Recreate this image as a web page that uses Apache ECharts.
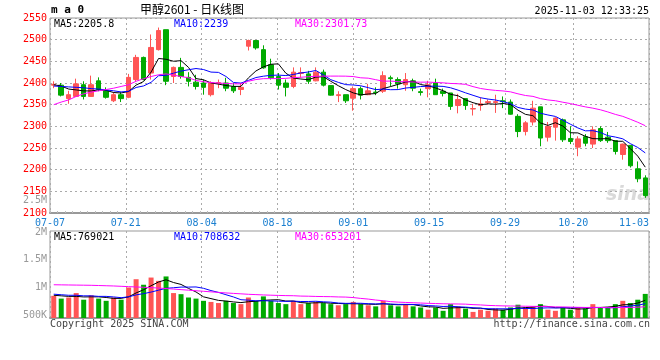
<!DOCTYPE html>
<html><head><meta charset="utf-8">
<script src="https://cdn.jsdelivr.net/npm/echarts@6/dist/echarts.min.js"></script>
<style>html,body{margin:0;padding:0;background:#fff}#c{width:660px;height:360px}</style>
</head><body><div id="c"></div>
<script>
const dates = ['07-07','07-08','07-09','07-10','07-11','07-14','07-15','07-16','07-17','07-18',
'07-21','07-22','07-23','07-24','07-25','07-28','07-29','07-30','07-31','08-01',
'08-04','08-05','08-06','08-07','08-08','08-11','08-12','08-13','08-14','08-15',
'08-18','08-19','08-20','08-21','08-22','08-25','08-26','08-27','08-28','08-29',
'09-01','09-02','09-03','09-04','09-05','09-08','09-09','09-10','09-11','09-12',
'09-15','09-16','09-17','09-18','09-19','09-22','09-23','09-24','09-25','09-26',
'09-29','09-30','10-09','10-10','10-13','10-14','10-15','10-16','10-17','10-20',
'10-21','10-22','10-23','10-24','10-27','10-28','10-29','10-30','10-31','11-03'];
const opens = [2395,2395,2364,2369,2396,2369,2405,2382,2359,2373,
2367,2408,2459,2423,2477,2523,2415,2436,2413,2402,
2400,2373,2399,2400,2392,2385,2485,2498,2477,2442,
2415,2400,2392,2422,2421,2405,2425,2394,2371,2373,
2365,2387,2373,2379,2381,2412,2408,2396,2405,2380,
2387,2400,2381,2377,2348,2364,2340,2348,2355,2355,
2359,2356,2323,2288,2310,2345,2275,2298,2315,2272,
2252,2276,2259,2295,2275,2267,2235,2256,2202,2181];
const closes = [2397,2372,2373,2398,2369,2396,2385,2367,2373,2364,
2413,2459,2408,2482,2521,2404,2436,2415,2404,2392,
2390,2400,2401,2388,2382,2390,2498,2481,2435,2412,
2395,2390,2425,2424,2404,2425,2395,2372,2373,2359,
2387,2372,2382,2378,2417,2410,2398,2408,2388,2378,
2396,2373,2376,2346,2362,2348,2341,2352,2357,2357,
2357,2328,2288,2308,2342,2273,2300,2319,2269,2265,
2271,2261,2292,2267,2267,2242,2259,2209,2179,2140];
const lows = [2388,2369,2352,2369,2362,2369,2381,2364,2356,2356,
2365,2404,2406,2408,2475,2395,2400,2410,2392,2385,
2373,2369,2388,2381,2377,2372,2475,2477,2433,2408,
2385,2369,2388,2412,2398,2404,2392,2371,2356,2354,
2336,2362,2372,2372,2377,2392,2387,2382,2381,2371,
2367,2373,2369,2338,2330,2338,2325,2336,2350,2331,
2342,2327,2275,2279,2302,2254,2265,2267,2264,2259,
2231,2254,2250,2264,2262,2235,2223,2205,2171,2135];
const highs = [2404,2400,2382,2410,2404,2417,2413,2390,2379,2379,
2421,2465,2461,2512,2528,2523,2438,2458,2425,2419,
2408,2404,2408,2412,2400,2400,2500,2498,2487,2456,
2423,2408,2436,2436,2428,2436,2431,2394,2381,2373,
2392,2392,2398,2390,2427,2417,2413,2423,2410,2387,
2405,2410,2387,2377,2375,2364,2352,2367,2362,2373,
2369,2362,2328,2312,2359,2345,2310,2321,2318,2300,
2277,2282,2300,2300,2287,2267,2260,2256,2219,2187];
// moving-average values before enough history exists
const ma5Head = [2396,2393,2386,2384];
const ma10Head = [2393,2392,2391,2390,2389,2387,2386,2384,2382];
const ma30Head = [2350,2356,2361,2369,2375,2379,2382,2385,2388,2392,
2396,2404,2410,2415,2419,2421,2418,2415,2412,2406,
2403,2401,2400,2399,2398,2398,2404,2408,2410];
const volumes = [850000,800000,820000,900000,780000,860000,800000,760000,820000,780000,
1000000,1150000,1050000,1180000,1120000,1200000,900000,880000,820000,800000,
760000,740000,720000,760000,720000,700000,820000,760000,840000,760000,
720000,700000,760000,700000,720000,740000,720000,700000,680000,700000,
740000,700000,680000,660000,760000,680000,660000,700000,660000,640000,
600000,640000,580000,700000,660000,620000,560000,600000,580000,620000,
600000,640000,690000,640000,660000,700000,600000,580000,640000,600000,
640000,620000,700000,641000,640000,700000,760000,720000,780000,885000];
const vma5Head = [860000,850000,840000,840000];
const vma10Head = [880000,870000,860000,860000,850000,850000,840000,840000,830000];
const vma30Head = [1050000,1048000,1046000,1044000,1042000,1040000,1036000,1032000,1028000,1022000,
1016000,1010000,1004000,998000,990000,982000,972000,962000,952000,942000,
932000,922000,912000,902000,894000,886000,878000,872000,866000];
const priceTicks = {min:2100, max:2550, interval:50};
const volRange = {min:450000, max:2020000};
const volLabels = [500000,1000000,1500000,2000000];
const labelIdx = [0,10,20,30,40,50,60,69,79];
const legendPrice = ['MA5:2205.8','MA10:2239','MA30:2301.73'];
const legendVol = ['MA5:769021','MA10:708632','MA30:653201'];

function movingAvg(vals, n, head){
  return vals.map((v,i)=>{
    if(i < n-1) return head[i];
    let s=0; for(let k=i-n+1;k<=i;k++) s+=vals[k];
    return +(s/n).toFixed(2);
  });
}
const RED='#ff5555', GREEN='#00aa00';
const FONT='DejaVu Sans Mono';
const kdata = dates.map((d,i)=>[opens[i],closes[i],lows[i],highs[i]]);
const volData = volumes.map((v,i)=>({value:v,itemStyle:{color: closes[i]>=opens[i]?RED:GREEN}}));
const showIdx = (i)=>labelIdx.indexOf(i)>=0;
const GL = 50, GR = 11;
const chart = echarts.init(document.getElementById('c'));
const gridLine = {show:true, interval:showIdx, lineStyle:{color:'#aaa', type:[2,3], width:1}};
chart.setOption({
  animation:false,
  grid:[
    {left:GL, right:GR, top:18, height:195, show:true, borderColor:'#999', borderWidth:1},
    {left:GL, right:GR, top:231, height:87, show:true, borderColor:'#999', borderWidth:1}
  ],
  xAxis:[
    {type:'category', gridIndex:0, position:'bottom', data:dates, boundaryGap:true, axisLine:{show:false},
     axisTick:{show:true, interval:0, length:-2, lineStyle:{color:'#bbb'}}, axisLabel:{show:false}, splitLine:{show:false}},
    {type:'category', gridIndex:0, position:'bottom', data:dates, boundaryGap:false, axisLine:{show:true, lineStyle:{color:'#999', width:2}},
     axisTick:{show:false}, splitLine:gridLine,
     axisLabel:{interval:showIdx, color:'#1a7fd0', fontFamily:FONT, fontSize:10, margin:5, alignMaxLabel:'right'}},
    {type:'category', gridIndex:1, position:'bottom', data:dates, boundaryGap:true, axisLine:{show:false}, axisTick:{show:false}, axisLabel:{show:false}, splitLine:{show:false}},
    {type:'category', gridIndex:1, position:'bottom', data:dates, boundaryGap:false, axisLine:{show:true, lineStyle:{color:'#999', width:2}}, axisTick:{show:false}, axisLabel:{show:false}, splitLine:gridLine}
  ],
  yAxis:[
    {type:'value', gridIndex:0, min:priceTicks.min, max:priceTicks.max, interval:priceTicks.interval,
     axisLine:{show:false}, axisTick:{show:false},
     axisLabel:{color:'#ff0000', fontFamily:FONT, fontSize:10, margin:3, formatter:(v)=>String(v)},
     splitLine:{show:true, lineStyle:{color:'#aaa', type:[2,3]}}},
    {type:'value', gridIndex:1, min:volRange.min, max:volRange.max,
     axisLine:{show:false}, axisTick:{show:false},
     axisLabel:{color:'#999', fontFamily:FONT, fontSize:10, margin:3, customValues:volLabels,
       formatter:(v)=> v<1000000 ? (v/1000)+'K' : (v/1000000)+'M'},
     splitLine:{show:false}}
  ],
  series:[
    {type:'candlestick', xAxisIndex:0, yAxisIndex:0, data:kdata, barWidth:5,
     itemStyle:{color:RED, color0:GREEN, borderColor:RED, borderColor0:GREEN, borderWidth:1}},
    {type:'line', xAxisIndex:0, yAxisIndex:0, data:movingAvg(closes,5,ma5Head), symbol:'none', lineStyle:{color:'#000', width:1}},
    {type:'line', xAxisIndex:0, yAxisIndex:0, data:movingAvg(closes,10,ma10Head), symbol:'none', lineStyle:{color:'#0000ff', width:1}},
    {type:'line', xAxisIndex:0, yAxisIndex:0, data:movingAvg(closes,30,ma30Head), symbol:'none', lineStyle:{color:'#ff00ff', width:1}},
    {type:'bar', xAxisIndex:2, yAxisIndex:1, data:volData, barWidth:5},
    {type:'line', xAxisIndex:2, yAxisIndex:1, data:movingAvg(volumes,5,vma5Head), symbol:'none', lineStyle:{color:'#000', width:1}},
    {type:'line', xAxisIndex:2, yAxisIndex:1, data:movingAvg(volumes,10,vma10Head), symbol:'none', lineStyle:{color:'#0000ff', width:1}},
    {type:'line', xAxisIndex:2, yAxisIndex:1, data:movingAvg(volumes,30,vma30Head), symbol:'none', lineStyle:{color:'#ff00ff', width:1}}
  ],
  graphic:[
    {type:'text', left:51, top:5, style:{text:'m a 0', font:'bold 11px "DejaVu Sans Mono"', fill:'#000'}},
    {type:'text', left:140, top:3, style:{text:'甲醇2601 - 日K线图', font:'12px "Noto Sans CJK SC"', fill:'#000'}},
    {type:'text', right:11, top:6, style:{text:'2025-11-03 12:33:25', font:'10px "DejaVu Sans Mono"', fill:'#000'}},
    {type:'text', left:54, top:19, style:{text:legendPrice[0], font:'10px "DejaVu Sans Mono"', fill:'#000'}},
    {type:'text', left:174, top:19, style:{text:legendPrice[1], font:'10px "DejaVu Sans Mono"', fill:'#0000ff'}},
    {type:'text', left:295, top:19, style:{text:legendPrice[2], font:'10px "DejaVu Sans Mono"', fill:'#ff00ff'}},
    {type:'text', right:613, top:195, style:{text:'2.5M', font:'10px "DejaVu Sans Mono"', fill:'#999'}},
    {type:'text', left:54, top:232, style:{text:legendVol[0], font:'10px "DejaVu Sans Mono"', fill:'#000'}},
    {type:'text', left:174, top:232, style:{text:legendVol[1], font:'10px "DejaVu Sans Mono"', fill:'#0000ff'}},
    {type:'text', left:295, top:232, style:{text:legendVol[2], font:'10px "DejaVu Sans Mono"', fill:'#ff00ff'}},
    {type:'text', left:50, top:319, style:{text:'Copyright 2025 SINA.COM', font:'10px "DejaVu Sans Mono"', fill:'#444'}},
    {type:'text', right:10, top:319, style:{text:'http://finance.sina.com.cn', font:'10px "DejaVu Sans Mono"', fill:'#444'}},
    {type:'text', left:606, top:186, style:{text:'sina', font:'italic bold 19px "DejaVu Sans"', fill:'rgba(170,170,170,0.45)'}}
  ]
});
</script></body></html>
